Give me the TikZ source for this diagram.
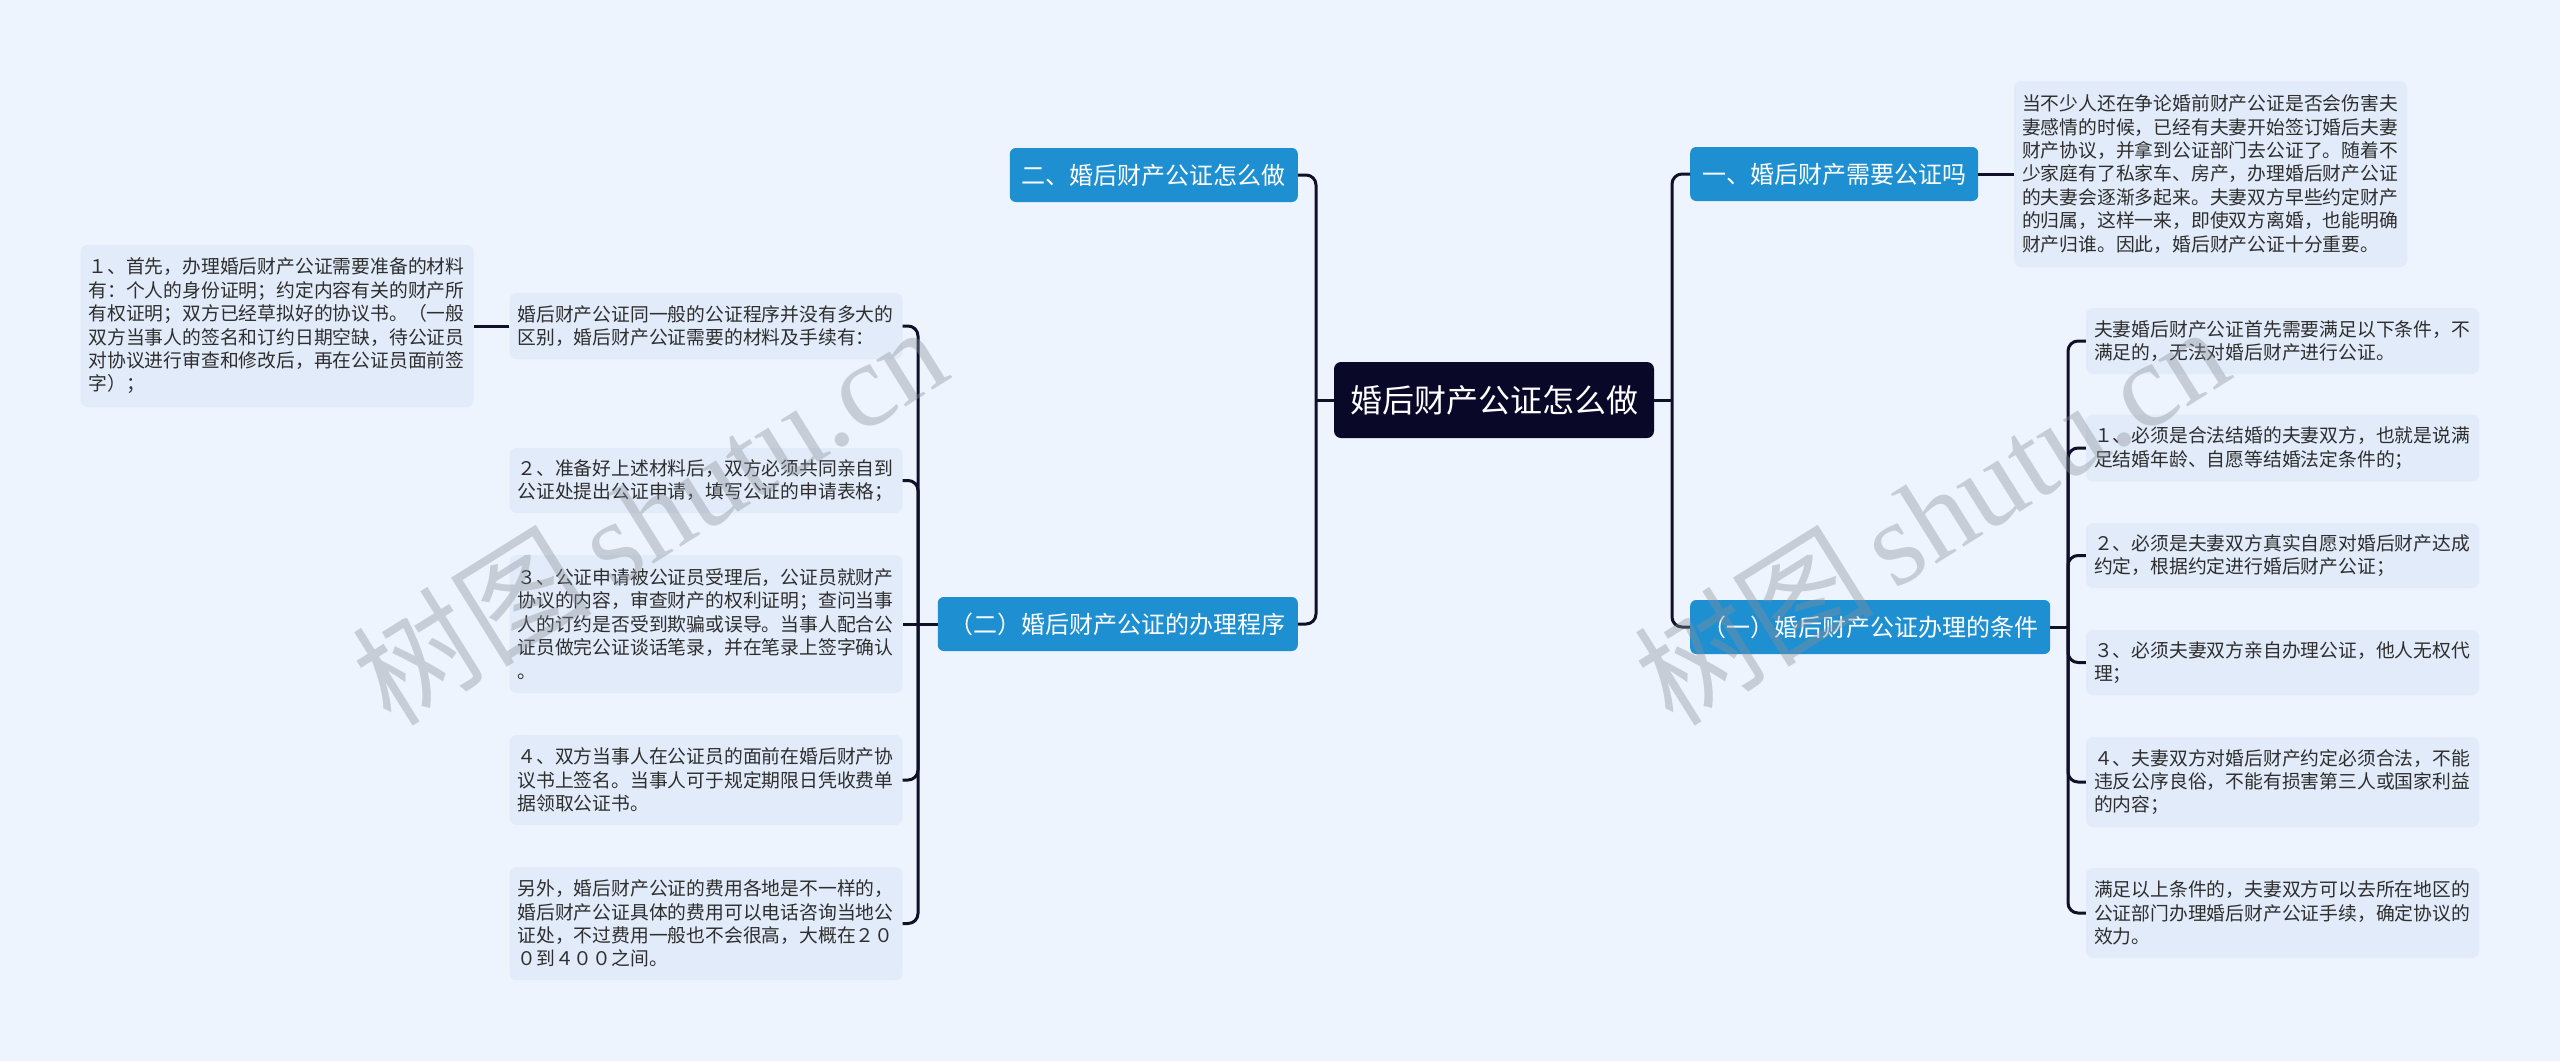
\documentclass[tikz,border=0pt]{standalone}
\usepackage{fontspec}
\newfontfamily\cjk{Noto Sans CJK SC}
\newfontfamily\wmserif{Liberation Serif}
\definecolor{bgc}{HTML}{EEF4FD}
\definecolor{boxfill}{HTML}{E2EBF9}
\definecolor{nodeblue}{HTML}{1E8FD0}
\definecolor{rootc}{HTML}{0A0828}
\definecolor{linec}{HTML}{10102A}
\definecolor{txtc}{HTML}{2E2E2E}
\definecolor{wmc}{HTML}{8A8F98}
\tikzset{
  para/.style={fill=boxfill, rounded corners=7pt, text=txtc,
    font=\cjk\fontsize{18.8}{23.4}\selectfont, text width=377pt,
    inner xsep=8pt, inner ysep=0pt, align=left},
  topic/.style={fill=nodeblue, rounded corners=6pt, text=white,
    font=\cjk\fontsize{24}{28}\selectfont, inner xsep=12pt, inner ysep=0pt,
    minimum height=54pt},
  rootnode/.style={fill=rootc, rounded corners=7pt, text=white,
    font=\cjk\fontsize{32}{36}\selectfont, inner xsep=16pt, inner ysep=0pt,
    minimum height=76pt},
  conn/.style={draw=linec, line width=3pt, rounded corners=10pt},
  wm/.style={text=wmc, opacity=0.38, rotate=32, inner sep=0pt},
}
\begin{document}
\begin{tikzpicture}[x=1pt,y=-1pt]
\fill[bgc] (0,0) rectangle (2560,1061);
\useasboundingbox (0,0) rectangle (2560,1061);

% root
\node[rootnode] (root) at (1494,400) {婚后财产公证怎么做};

% right main topics
\node[topic, anchor=west] (n1) at (1690,174) {一、婚后财产需要公证吗};
\node[topic, anchor=west] (n2) at (1690,627) {（一）婚后财产公证办理的条件};

% left main topics
\node[topic, anchor=east] (m1) at (1298,175) {二、婚后财产公证怎么做};
\node[topic, anchor=east] (m2) at (1298,624) {（二）婚后财产公证的办理程序};

% right paragraph
\node[para, minimum height=186pt] (p0) at (2210.5,174) {当不少人还在争论婚前财产公证是否会伤害夫\\妻感情的时候，已经有夫妻开始签订婚后夫妻\\财产协议，并拿到公证部门去公证了。随着不\\少家庭有了私家车、房产，办理婚后财产公证\\的夫妻会逐渐多起来。夫妻双方早些约定财产\\的归属，这样一来，即使双方离婚，也能明确\\财产归谁。因此，婚后财产公证十分重要。};

% right children
\node[para, minimum height=66pt] (r1) at (2282.5,341) {夫妻婚后财产公证首先需要满足以下条件，不\\满足的，无法对婚后财产进行公证。};
\node[para, minimum height=67pt] (r2) at (2282.5,448) {１、必须是合法结婚的夫妻双方，也就是说满\\足结婚年龄、自愿等结婚法定条件的；};
\node[para, minimum height=65pt] (r3) at (2282.5,555.5) {２、必须是夫妻双方真实自愿对婚后财产达成\\约定，根据约定进行婚后财产公证；};
\node[para, minimum height=65pt] (r4) at (2282.5,662.5) {３、必须夫妻双方亲自办理公证，他人无权代\\理；};
\node[para, minimum height=90pt] (r5) at (2282.5,782) {４、夫妻双方对婚后财产约定必须合法，不能\\违反公序良俗，不能有损害第三人或国家利益\\的内容；};
\node[para, minimum height=90pt] (r6) at (2282.5,913) {满足以上条件的，夫妻双方可以去所在地区的\\公证部门办理婚后财产公证手续，确定协议的\\效力。};

% left children
\node[para, minimum height=66pt] (la) at (706,326) {婚后财产公证同一般的公证程序并没有多大的\\区别，婚后财产公证需要的材料及手续有：};
\node[para, minimum height=65pt] (lb) at (706,480.5) {２、准备好上述材料后，双方必须共同亲自到\\公证处提出公证申请，填写公证的申请表格；};
\node[para, minimum height=138pt] (lc) at (706,624) {３、公证申请被公证员受理后，公证员就财产\\协议的内容，审查财产的权利证明；查问当事\\人的订约是否受到欺骗或误导。当事人配合公\\证员做完公证谈话笔录，并在笔录上签字确认\\。};
\node[para, minimum height=90pt] (ld) at (706,780) {４、双方当事人在公证员的面前在婚后财产协\\议书上签名。当事人可于规定期限日凭收费单\\据领取公证书。};
\node[para, minimum height=113pt] (le) at (706,923.5) {另外，婚后财产公证的费用各地是不一样的，\\婚后财产公证具体的费用可以电话咨询当地公\\证处，不过费用一般也不会很高，大概在２０\\０到４００之间。};

% far left
\node[para, minimum height=162pt] (lf) at (277,326) {１、首先，办理婚后财产公证需要准备的材料\\有：个人的身份证明；约定内容有关的财产所\\有权证明；双方已经草拟好的协议书。（一般\\双方当事人的签名和订约日期空缺，待公证员\\对协议进行审查和修改后，再在公证员面前签\\字）；};

% trunk coordinates
\coordinate (tR) at (1672,400);
\coordinate (tL) at (1316,400);
\coordinate (tRR) at (2068,627);
\coordinate (tLL) at (918,624);

% connectors
\draw[conn] (root.east) -- (tR);
\draw[conn] (n1.west) -- (n1.west -| tR) -- (n2.west -| tR) -- (n2.west);
\draw[conn] (root.west) -- (tL);
\draw[conn] (m1.east) -- (m1.east -| tL) -- (m2.east -| tL) -- (m2.east);
\draw[conn] (n1.east) -- (p0.west);

\draw[conn] (n2.east) -- (tRR);
\foreach \c in {r1,r2,r3,r4,r5,r6}
  \draw[conn] (tRR) -- (tRR |- \c.west) -- (\c.west);

\draw[conn] (m2.west) -- (tLL);
\foreach \c in {la,lb,ld,le}
  \draw[conn] (tLL) -- (tLL |- \c.east) -- (\c.east);
\draw[conn] (tLL) -- (lc.east);

\draw[conn] (la.west) -- (lf.east);

% watermarks
\node[wm, font=\fontsize{120}{120}\selectfont] (w1) at (649,514) {\cjk 树图\,\wmserif shutu.cn};
\node[wm, font=\fontsize{120}{120}\selectfont] (w2) at (1931,514) {\cjk 树图\,\wmserif shutu.cn};
\end{tikzpicture}
\end{document}
